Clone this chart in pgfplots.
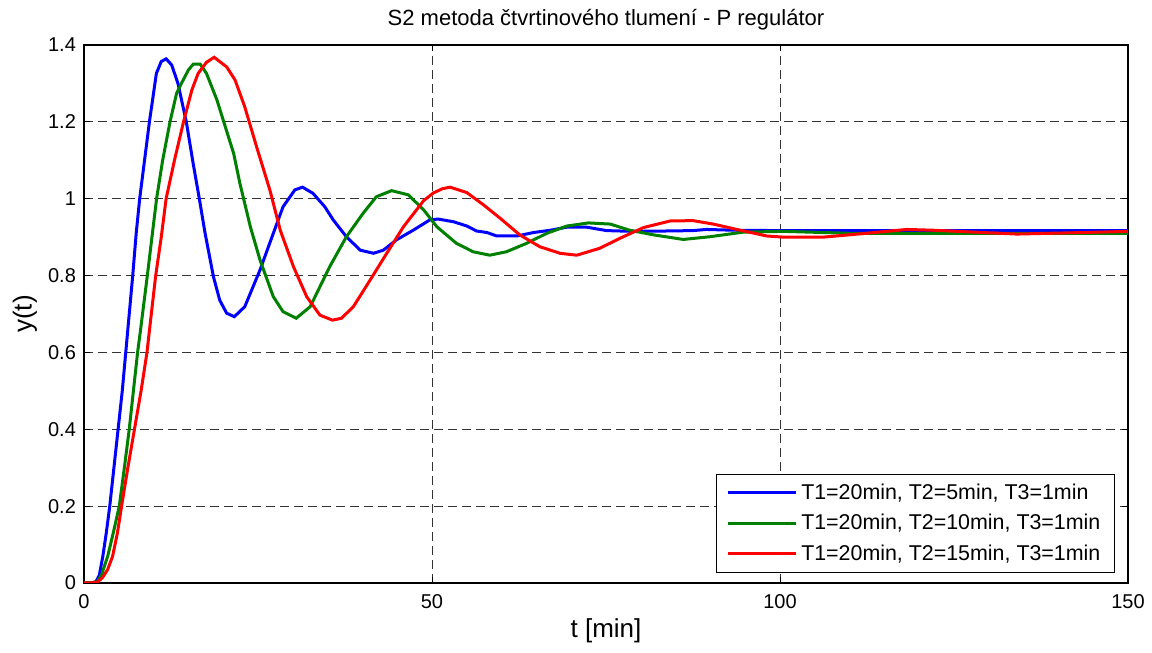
\documentclass[border=0pt]{standalone}
\usepackage{fontspec}
\setmainfont{Liberation Sans}
\usepackage{pgfplots}
\pgfplotsset{compat=1.18}

\definecolor{mblue}{RGB}{0,0,255}
\definecolor{mgreen}{RGB}{0,128,0}
\definecolor{mred}{RGB}{255,0,0}

\begin{document}
\begin{tikzpicture}
\begin{axis}[
  scale only axis,
  width=522pt, height=269pt,
  xmin=0, xmax=150, ymin=0, ymax=1.4,
  xtick={0,50,100,150},
  ytick={0,0.2,0.4,0.6,0.8,1,1.2,1.4},
  grid=major,
  major grid style={black!80, line width=0.5pt, dash pattern=on 4.5pt off 2.5pt},
  axis line style={black, line width=0.7pt},
  tick style={black, line width=0.5pt},
  major tick length=3pt,
  tick align=inside,
  tick pos=both,
  ticklabel style={font=\fontsize{10}{12}\selectfont},
  xticklabel style={yshift=-2pt},
  yticklabel style={xshift=-0.5pt},
  /pgf/number format/assume math mode=true,
  xlabel={t [min]},
  ylabel={y(t)},
  label style={font=\fontsize{13}{15}\selectfont},
  xlabel style={at={(axis description cs:0.5,-0.0892)}, anchor=center},
  ylabel style={at={(axis description cs:-0.0565,0.5)}, anchor=center},
  every axis title shift=0pt,
  title={S2 metoda čtvrtinového tlumení - P regulátor},
  title style={at={(axis description cs:0.5,1.0465)}, anchor=center,
    font=\fontsize{11}{13}\selectfont},
  legend cell align=left,
  legend image code/.code={\draw[#1] (0pt,0pt) -- (34pt,0pt);},
  legend style={at={(1,0)}, anchor=south east, xshift=-6.5pt, yshift=5pt,
    font=\fontsize{10.7}{12}\selectfont, draw=black, line width=0.6pt,
    inner xsep=5pt, inner ysep=2.6pt, row sep=2pt,
    nodes={inner sep=2pt}},
]
\addplot[mblue, line width=1.5pt] coordinates {
  (0,0) (1,0) (1.7,0.003) (2.2,0.02) (2.7,0.069) (3.2,0.13) (3.7,0.2)
  (4.3,0.3) (4.9,0.4) (5.5,0.5) (6.0,0.6) (6.5,0.7) (7.0,0.8) (7.5,0.91)
  (8.0,1.0) (8.7,1.1) (9.4,1.2) (10.4,1.326) (11.1,1.357) (11.8,1.364)
  (12.6,1.348) (13.5,1.30) (14.7,1.2) (15.7,1.09) (16.6,0.997) (17.4,0.91)
  (18.6,0.797) (19.5,0.736) (20.5,0.702) (21.6,0.693) (23.1,0.719)
  (25.3,0.815) (27.0,0.90) (28.6,0.979) (30.3,1.023) (31.4,1.03)
  (32.9,1.014) (34.6,0.979) (35.8,0.945) (37.7,0.901) (39.7,0.866)
  (41.6,0.858) (43.0,0.866) (44.9,0.893) (47.3,0.918) (49.7,0.945)
  (50.9,0.947) (53.1,0.94) (55.0,0.929) (56.4,0.916) (57.9,0.912)
  (59.3,0.903) (62.2,0.903) (64.6,0.912) (67.0,0.918) (69.4,0.926)
  (72.2,0.926) (75.1,0.917) (78.9,0.915) (83.7,0.916) (87.5,0.917)
  (89.4,0.92) (93.3,0.918) (100,0.917) (150,0.917)};
\addlegendentry{T1=20min, T2=5min, T3=1min}
\addplot[mgreen, line width=1.5pt] coordinates {
  (0,0) (1,0) (1.9,0.003) (2.5,0.02) (3.4,0.069) (4.2,0.13) (5.07,0.2)
  (5.8,0.3) (6.5,0.4) (7.1,0.5) (7.7,0.6) (8.1,0.655) (9.1,0.8)
  (10.43,1.0) (11.3,1.1) (12.36,1.2) (13.3,1.274) (14.0,1.30) (15.0,1.335)
  (15.7,1.35) (16.7,1.35) (17.6,1.326) (19.1,1.257) (21.5,1.118)
  (22.4,1.04) (23.9,0.927) (25.3,0.84) (27.2,0.745) (28.6,0.706)
  (30.5,0.689) (32.5,0.719) (35.3,0.823) (37.7,0.901) (40.1,0.962)
  (42.0,1.005) (44.2,1.021) (46.6,1.01) (48.8,0.971) (50.7,0.927)
  (53.5,0.884) (55.9,0.862) (58.3,0.853) (60.7,0.862) (63.6,0.884)
  (66.5,0.910) (69.4,0.929) (72.5,0.937) (75.6,0.934) (78.4,0.918)
  (81.8,0.906) (86.1,0.894) (89.9,0.901) (94.7,0.913) (100.5,0.915)
  (110,0.91) (150,0.91)};
\addlegendentry{T1=20min, T2=10min, T3=1min}
\addplot[mred, line width=1.5pt] coordinates {
  (0,0) (1,0) (2.0,0.003) (2.7,0.015) (3.4,0.035) (4.1,0.069) (4.8,0.13)
  (5.4,0.2) (6.3,0.3) (7.25,0.4) (8.2,0.5) (9.05,0.6) (9.3,0.641)
  (10.3,0.8) (11.1,0.9) (11.8,1.0) (13.0,1.1) (14.3,1.2) (15.5,1.283)
  (16.4,1.326) (17.6,1.355) (18.7,1.368) (20.5,1.343) (21.7,1.309)
  (23.1,1.239) (24.8,1.135) (26.7,1.023) (28.2,0.918) (30.1,0.823)
  (32.0,0.745) (33.9,0.697) (35.7,0.684) (37.0,0.689) (38.7,0.719)
  (41.1,0.788) (43.5,0.858) (45.9,0.927) (48.8,0.995) (50.2,1.015)
  (51.5,1.026) (52.6,1.03) (55.0,1.016) (57.4,0.984) (59.8,0.949)
  (62.6,0.906) (65.5,0.875) (68.4,0.858) (70.8,0.853) (74.1,0.871)
  (77.0,0.897) (80.4,0.925) (84.2,0.942) (87.5,0.943) (90.4,0.934)
  (94.3,0.918) (98.1,0.903) (100.5,0.90) (106.2,0.90) (112.4,0.91)
  (118.2,0.92) (122,0.918) (126.8,0.914) (134,0.908) (138.8,0.91)
  (143.6,0.912) (150,0.915)};
\addlegendentry{T1=20min, T2=15min, T3=1min}
\coordinate (ll) at (rel axis cs:0,0);
\coordinate (ur) at (rel axis cs:1,1);
\end{axis}
\pgfresetboundingbox
\path ([shift={(-42pt,-35pt)}]ll) rectangle ([shift={(12pt,22.5pt)}]ur);
\end{tikzpicture}
\end{document}
